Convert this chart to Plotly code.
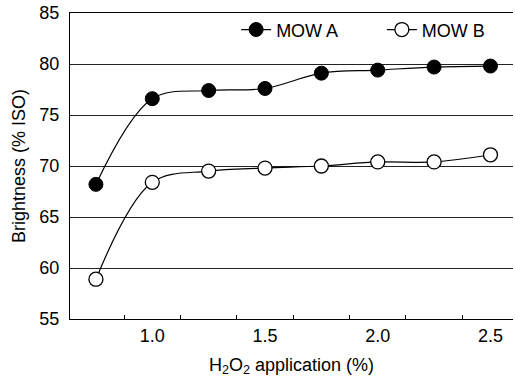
import plotly.graph_objects as go

# Data
h2o2 = [0.75, 1.0, 1.25, 1.5, 1.75, 2.0, 2.25, 2.5]
mow_a = [68.2, 76.6, 77.4, 77.6, 79.1, 79.4, 79.7, 79.8]
mow_b = [58.9, 68.4, 69.5, 69.8, 70.0, 70.4, 70.4, 71.1]
series_names = ["MOW A", "MOW B"]

x_tick_vals = [1.0, 1.5, 2.0, 2.5]
x_tick_text = ["1.0", "1.5", "2.0", "2.5"]
x_minor_ticks = [0.875, 1.125, 1.375, 1.625, 1.875, 2.125, 2.375]
y_tick_vals = [55, 60, 65, 70, 75, 80, 85]

FONT = "Liberation Sans, Arial, Helvetica, sans-serif"
FS = 18

fig = go.Figure()
fig.add_trace(go.Scatter(
    x=h2o2, y=mow_a, name=series_names[0], mode="lines+markers",
    legend="legend",
    line=dict(color="black", width=1.2, shape="spline", smoothing=1.0),
    marker=dict(symbol="circle", size=14, color="black",
                line=dict(color="black", width=1)),
))
fig.add_trace(go.Scatter(
    x=h2o2, y=mow_b, name=series_names[1], mode="lines+markers",
    legend="legend2",
    line=dict(color="black", width=1.2, shape="spline", smoothing=1.0),
    marker=dict(symbol="circle", size=14, color="white",
                line=dict(color="black", width=1.3)),
))

legend_common = dict(
    orientation="h", yanchor="middle", xanchor="left",
    bgcolor="rgba(0,0,0,0)", borderwidth=0,
    font=dict(family=FONT, size=FS, color="black"),
    itemclick=False, itemdoubleclick=False,
)

fig.update_layout(
    width=515, height=378,
    margin=dict(l=70, r=2, t=13, b=59, pad=0),
    paper_bgcolor="white", plot_bgcolor="white",
    font=dict(family=FONT, size=FS, color="black"),
    showlegend=True,
    legend=dict(x=0.375, y=0.945, **legend_common),
    legend2=dict(x=0.704, y=0.945, **legend_common),
    xaxis=dict(
        range=[0.635, 2.6],
        tickmode="array", tickvals=x_tick_vals, ticktext=x_tick_text,
        ticks="", showgrid=False, zeroline=False,
        showline=True, linecolor="black", linewidth=1, mirror=True,
        tickfont=dict(size=FS),
        minor=dict(tickmode="array", tickvals=x_minor_ticks, ticks="inside",
                   ticklen=4, tickcolor="black", tickwidth=1, showgrid=False),
        title=dict(text="H<sub>2</sub>O<sub>2</sub> application (%)",
                   font=dict(size=FS), standoff=13),
        automargin=False,
    ),
    yaxis=dict(
        range=[55, 85],
        tickmode="array", tickvals=y_tick_vals,
        ticks="", ticklabelstandoff=6,
        showgrid=True, gridcolor="#222222", gridwidth=1,
        zeroline=False,
        showline=True, linecolor="black", linewidth=1,
        tickfont=dict(size=FS),
        title=dict(text="Brightness (% ISO)", font=dict(size=FS), standoff=9),
        automargin=False,
    ),
)

fig.write_html("out.html")
